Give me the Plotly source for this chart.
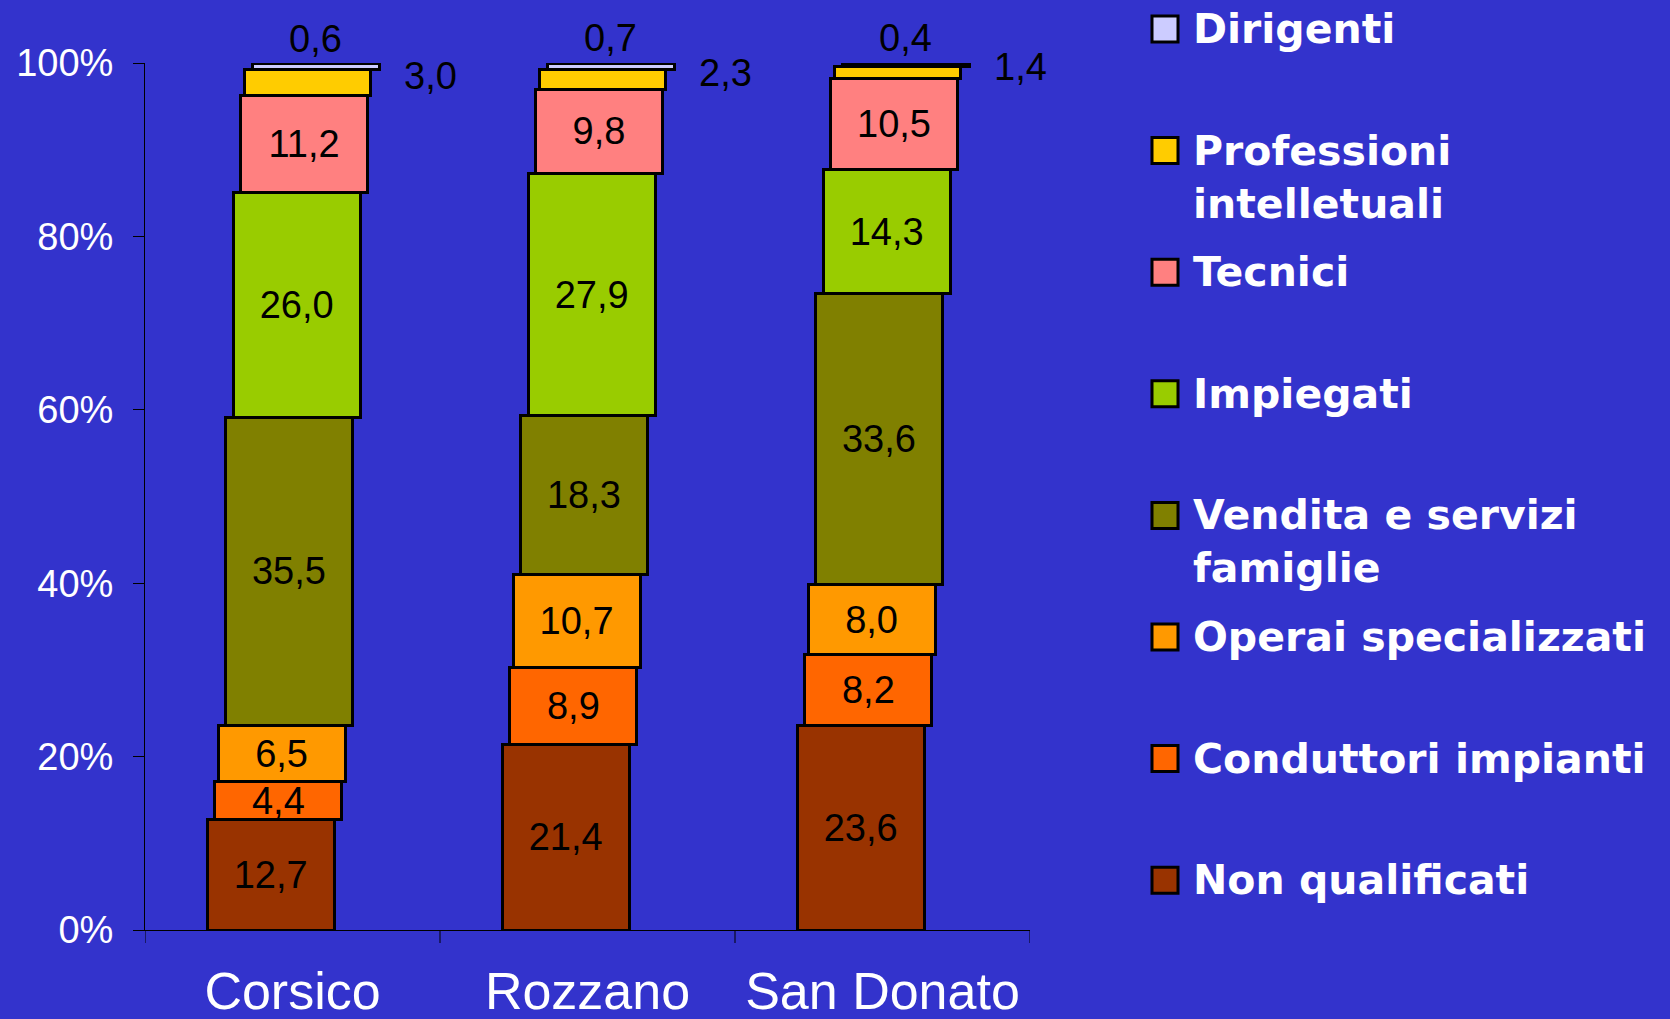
import plotly.graph_objects as go

# Data (% of employed by profession)
comuni = ['Corsico', 'Rozzano', 'San Donato']
categorie = ['Non qualificati', 'Conduttori impianti', 'Operai specializzati',
             'Vendita e servizi famiglie', 'Impiegati', 'Tecnici',
             'Professioni intelletuali', 'Dirigenti']
non_qualificati = [12.7, 21.4, 23.6]
conduttori = [4.4, 8.9, 8.2]
operai = [6.5, 10.7, 8.0]
vendita = [35.5, 18.3, 33.6]
impiegati = [26.0, 27.9, 14.3]
tecnici = [11.2, 9.8, 10.5]
professioni = [3.0, 2.3, 1.4]
dirigenti = [0.6, 0.7, 0.4]
y_ticks = [0, 20, 40, 60, 80, 100]

serie = [non_qualificati, conduttori, operai, vendita, impiegati, tecnici,
         professioni, dirigenti]
legend_text = ['Non qualificati', 'Conduttori impianti', 'Operai specializzati',
               'Vendita e servizi<br>famiglie', 'Impiegati', 'Tecnici',
               'Professioni<br>intelletuali', 'Dirigenti']

colori = ['#993300', '#FF6600', '#FF9900', '#808000', '#99CC00', '#FF8080',
          '#FFCC00', '#CCCCFF']
# staircase shift of each layer (Excel look)
offsets = [-0.289, -0.263, -0.252, -0.227, -0.201, -0.176, -0.164, -0.136]
bar_w = 0.43
BG = '#3333CC'
FONT = 'Liberation Sans, Arial, sans-serif'
LEG_FONT = 'DejaVu Sans, Verdana, sans-serif'

W, H = 1670, 1019
L, R, T, B = 145, 640, 63, 89
pw, ph = W - L - R, H - T - B


def px2x(px):
    return (px - L) / pw


def px2y(py):
    return (H - B - py) / ph


fig = go.Figure()
for k, (nome, vals) in enumerate(zip(categorie, serie)):
    inside = k < 6
    fig.add_trace(go.Bar(
        x=list(range(len(comuni))), y=vals, name=nome,
        offset=offsets[k], width=bar_w,
        marker=dict(color=colori[k], line=dict(color='black', width=3)),
        text=vals if inside else None,
        texttemplate='%{y:.1f}' if inside else None,
        textposition='inside' if inside else 'none',
        insidetextanchor='middle', constraintext='none',
        textfont=dict(family=FONT, size=38, color='black'),
        cliponaxis=False, showlegend=False,
    ))

annotations = []
tops = [sum(s[i] for s in serie) for i in range(len(comuni))]
for i in range(len(comuni)):
    base_p = sum(s[i] for s in serie[:6])
    annotations.append(dict(
        x=i + offsets[6] + bar_w + 60 / 295, y=base_p + professioni[i] / 2,
        xref='x', yref='y', text=f'{professioni[i]:.1f}'.replace('.', ','),
        showarrow=False, yshift=6,
        font=dict(family=FONT, size=38, color='black')))
    annotations.append(dict(
        x=i + offsets[7] + bar_w / 2, y=tops[i], xref='x', yref='y',
        text=f'{dirigenti[i]:.1f}'.replace('.', ','), showarrow=False,
        yanchor='bottom', yshift=2,
        font=dict(family=FONT, size=38, color='black')))

# hand-made legend, top item = Dirigenti
shapes = []
pitch = 121.6
for j, k in enumerate(reversed(range(len(categorie)))):
    cy = 29 + j * pitch
    shapes.append(dict(type='rect', xref='paper', yref='paper',
                       x0=px2x(1152), x1=px2x(1178),
                       y0=px2y(cy + 13), y1=px2y(cy - 13),
                       fillcolor=colori[k], line=dict(color='black', width=3)))
    for n, riga in enumerate(legend_text[k].split('<br>')):
        annotations.append(dict(
            x=px2x(1191), y=px2y(cy + n * 53), xref='paper', yref='paper',
            xanchor='left', yanchor='middle', text=f'<b>{riga}</b>',
            showarrow=False,
            font=dict(family=LEG_FONT, size=41, color='white')))

fig.update_layout(
    width=W, height=H,
    margin=dict(l=L, r=R, t=T, b=B, autoexpand=False),
    paper_bgcolor=BG, plot_bgcolor=BG,
    barmode='stack', separators=',.',
    annotations=annotations, shapes=shapes,
    xaxis=dict(range=[-0.5, 2.5], tickvals=list(range(len(comuni))),
               ticktext=comuni, showgrid=False, zeroline=False,
               showline=True, linecolor='black', linewidth=1, automargin=False,
               ticks='', tickfont=dict(family=FONT, size=52, color='white'),
               ticklabelstandoff=16),
    yaxis=dict(range=[0, 100], tickvals=y_ticks,
               ticktext=[f'{v}%' for v in y_ticks], showgrid=False,
               zeroline=False, showline=True, linecolor='black', linewidth=1,
               ticks='outside', ticklen=11, tickcolor='black', automargin=False,
               tickfont=dict(family=FONT, size=38, color='white'),
               ticklabelstandoff=12),
)

# category boundary ticks on the x axis
for b in [-0.5, 0.5, 1.5, 2.5]:
    fig.add_shape(type='line', xref='x', yref='paper', x0=b, x1=b,
                  y0=0, y1=-13 / ph, line=dict(color='black', width=1))

fig.write_html('out.html', config={'displayModeBar': False},
               post_script="document.body.style.margin='0';"
                           "document.body.style.overflow='hidden';")
